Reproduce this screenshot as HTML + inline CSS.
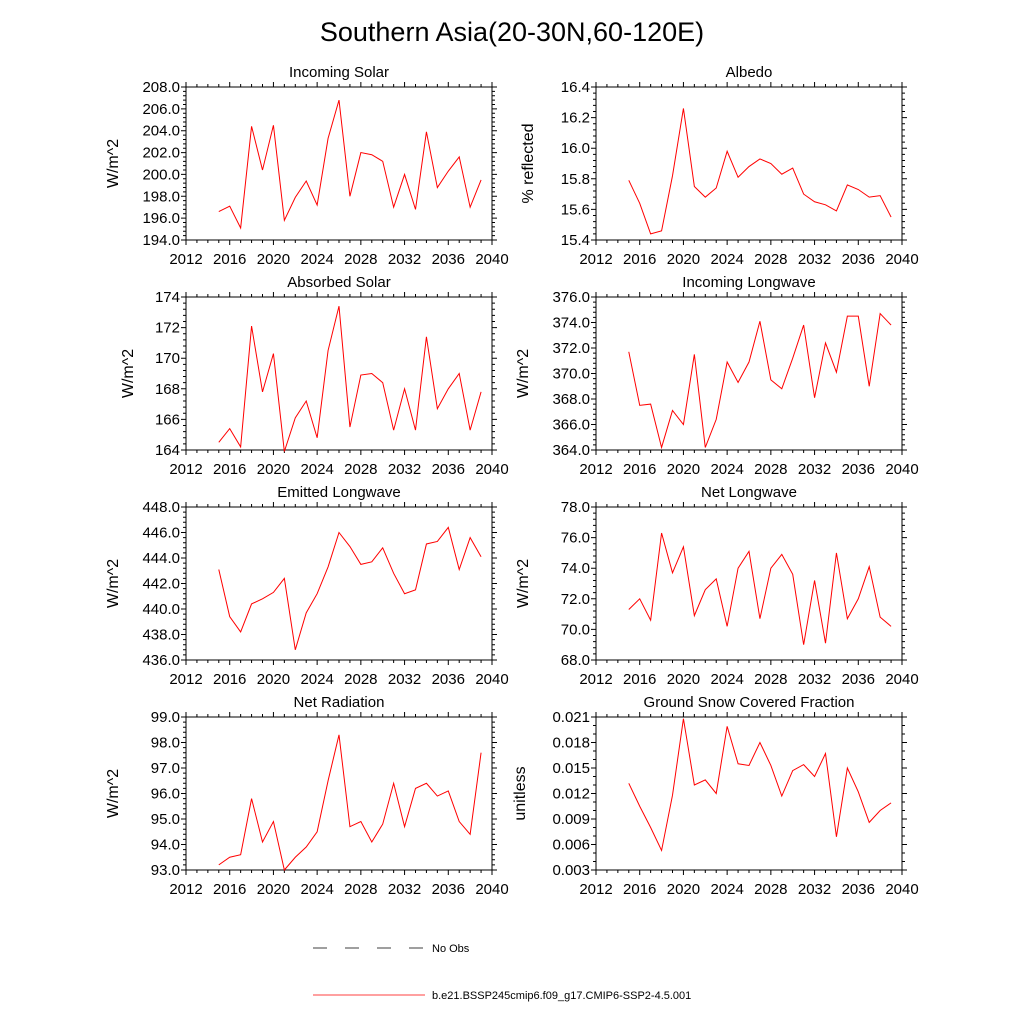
<!DOCTYPE html>
<html><head><meta charset="utf-8"><style>
body{margin:0;background:#fff;}
svg text{font-family:"Liberation Sans",sans-serif;fill:#000;}
</style></head><body>
<svg id="c" width="1024" height="1024" xmlns="http://www.w3.org/2000/svg">
<text x="512" y="41" font-size="27" text-anchor="middle">Southern Asia(20-30N,60-120E)</text>
<g>
<line x1="313" y1="948" x2="425" y2="948" stroke="#000" stroke-width="0.8" stroke-dasharray="14,18"/>
<text x="432" y="952" font-size="11">No Obs</text>
<line x1="313" y1="995" x2="425" y2="995" stroke="red" stroke-width="0.8"/>
<text x="432" y="999" font-size="11">b.e21.BSSP245cmip6.f09_g17.CMIP6-SSP2-4.5.001</text>
</g>
</svg>
<script>
const years=[2015,2016,2017,2018,2019,2020,2021,2022,2023,2024,2025,2026,2027,2028,2029,2030,2031,2032,2033,2034,2035,2036,2037,2038,2039];
const xTicks=[2012,2016,2020,2024,2028,2032,2036,2040];
const incomingSolar=[196.6,197.1,195.1,204.4,200.4,204.5,195.8,197.9,199.4,197.2,203.3,206.8,198.0,202.0,201.8,201.2,197.0,200.0,196.8,203.9,198.8,200.3,201.6,197.0,199.5];
const albedo=[15.79,15.64,15.44,15.46,15.82,16.26,15.75,15.68,15.74,15.98,15.81,15.88,15.93,15.90,15.83,15.87,15.70,15.65,15.63,15.59,15.76,15.73,15.68,15.69,15.55];
const absorbedSolar=[164.5,165.4,164.2,172.1,167.8,170.3,163.9,166.1,167.2,164.8,170.5,173.4,165.5,168.9,169.0,168.4,165.3,168.0,165.3,171.4,166.7,168.0,169.0,165.3,167.8];
const incomingLW=[371.7,367.5,367.6,364.2,367.1,366.0,371.5,364.2,366.4,370.9,369.3,370.9,374.1,369.5,368.8,371.2,373.8,368.1,372.4,370.1,374.5,374.5,369.0,374.7,373.8];
const emittedLW=[443.1,439.4,438.2,440.4,440.8,441.3,442.4,436.8,439.7,441.2,443.3,446.0,444.9,443.5,443.7,444.8,442.8,441.2,441.5,445.1,445.3,446.4,443.1,445.6,444.1];
const netLW=[71.3,72.0,70.6,76.3,73.7,75.4,70.9,72.6,73.3,70.2,74.0,75.1,70.7,74.0,74.9,73.6,69.0,73.2,69.1,75.0,70.7,72.0,74.1,70.8,70.2];
const netRad=[93.2,93.5,93.6,95.8,94.1,94.9,93.0,93.5,93.9,94.5,96.5,98.3,94.7,94.9,94.1,94.8,96.4,94.7,96.2,96.4,95.9,96.1,94.9,94.4,97.6];
const snow=[0.0132,0.0105,0.0080,0.0053,0.0118,0.0208,0.0130,0.0136,0.0120,0.0199,0.0155,0.0153,0.0180,0.0153,0.0117,0.0147,0.0154,0.0140,0.0167,0.0069,0.0150,0.0122,0.0086,0.0100,0.0109];
const ticksSolar=[194,196,198,200,202,204,206,208];
const ticksAlb=[15.4,15.6,15.8,16.0,16.2,16.4];
const ticksAbs=[164,166,168,170,172,174];
const ticksILW=[364,366,368,370,372,374,376];
const ticksELW=[436,438,440,442,444,446,448];
const ticksNLW=[68,70,72,74,76,78];
const ticksNR=[93,94,95,96,97,98,99];
const ticksSnow=[0.003,0.006,0.009,0.012,0.015,0.018,0.021];
const panels=[
 {id:'incoming-solar',title:'Incoming Solar',yl:'W/m^2',d:incomingSolar,t:ticksSolar,dec:1,minor:4,col:0,row:0},
 {id:'albedo',title:'Albedo',yl:'% reflected',d:albedo,t:ticksAlb,dec:1,minor:4,col:1,row:0},
 {id:'absorbed-solar',title:'Absorbed Solar',yl:'W/m^2',d:absorbedSolar,t:ticksAbs,dec:0,minor:4,col:0,row:1},
 {id:'incoming-longwave',title:'Incoming Longwave',yl:'W/m^2',d:incomingLW,t:ticksILW,dec:1,minor:4,col:1,row:1},
 {id:'emitted-longwave',title:'Emitted Longwave',yl:'W/m^2',d:emittedLW,t:ticksELW,dec:1,minor:4,col:0,row:2},
 {id:'net-longwave',title:'Net Longwave',yl:'W/m^2',d:netLW,t:ticksNLW,dec:1,minor:4,col:1,row:2},
 {id:'net-radiation',title:'Net Radiation',yl:'W/m^2',d:netRad,t:ticksNR,dec:1,minor:4,col:0,row:3},
 {id:'snow-fraction',title:'Ground Snow Covered Fraction',yl:'unitless',d:snow,t:ticksSnow,dec:3,minor:2,col:1,row:3}
];
const svg=document.getElementById('c');
const NS='http://www.w3.org/2000/svg';
function mk(tag,at,parent){const e=document.createElementNS(NS,tag);for(const k in at)e.setAttribute(k,at[k]);parent.appendChild(e);return e;}
const colX=[186,596], rowY=[87,297,507,717], W=306, H=153;
panels.forEach(p=>{
 const g=mk('g',{},svg);
 
 
 const x0=colX[p.col], y0=rowY[p.row];
 const ymin=p.t[0], ymax=p.t[p.t.length-1];
 const sx=v=>x0+(v-2012)/(2040-2012)*W;
 const sy=v=>y0+H-(v-ymin)/(ymax-ymin)*H;
 const fr=mk('rect',{x:x0,y:y0,width:W,height:H,fill:'none',stroke:'#000','stroke-width':1},g);
 
 
 let tk='';
 for(let y=2012;y<=2040;y++){const X=sx(y);const L=(y%4==0)?5:3;tk+=`M${X},${y0+H}v${L}M${X},${y0}v${-L}`;}
 const st=(ymax-ymin)/(p.t.length-1);
 for(let i=0;i<p.t.length;i++){const Y=sy(p.t[i]);tk+=`M${x0},${Y}h-5M${x0+W},${Y}h5`;
  if(i<p.t.length-1)for(let m=1;m<p.minor+1;m++){const Ym=sy(p.t[i]+st*m/(p.minor+1));tk+=`M${x0},${Ym}h-3M${x0+W},${Ym}h3`;}}
 const ticks=mk('path',{d:tk,stroke:'#000','stroke-width':1,fill:'none'},g);
 
 
 xTicks.forEach(v=>{const t=mk('text',{x:sx(v),y:y0+H+24,'font-size':15,'text-anchor':'middle'},g);t.textContent=v;
  
  });
 p.t.forEach(v=>{const t=mk('text',{x:x0-6,y:sy(v)+5,'font-size':15,'text-anchor':'end'},g);t.textContent=v.toFixed(p.dec);
  
  });
 const tt=mk('text',{x:x0+W/2,y:y0-10,'font-size':15,'text-anchor':'middle'},g);tt.textContent=p.title;
 
 
 const lx=p.yl=='W/m^2'?(p.dec==0?x0-53:x0-68):(p.dec==3?x0-71:x0-63);
 const yl=mk('text',{x:lx,y:y0+H/2,'font-size':16,'text-anchor':'middle',transform:`rotate(-90 ${lx} ${y0+H/2})`},g);yl.textContent=p.yl;
 
 
 const pts=years.map((y,i)=>sx(y)+','+sy(p.d[i])).join(' ');
 const ln=mk('polyline',{points:pts,fill:'none',stroke:'red','stroke-width':1},g);
 
 
});
</script>
</body></html>
